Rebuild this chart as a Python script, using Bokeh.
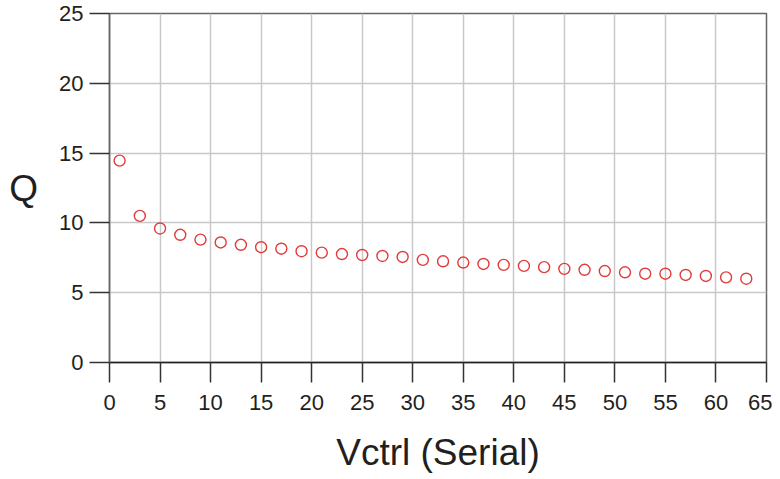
from bokeh.plotting import figure
from bokeh.embed import file_html
from bokeh.resources import INLINE
from bokeh.models import FixedTicker, Range1d

vctrl = [1, 3, 5, 7, 9, 11, 13, 15, 17, 19, 21, 23, 25, 27, 29, 31,
         33, 35, 37, 39, 41, 43, 45, 47, 49, 51, 53, 55, 57, 59, 61, 63]
q_vals = [14.46, 10.5, 9.6, 9.15, 8.8, 8.6, 8.43, 8.26, 8.15, 7.97, 7.87, 7.77, 7.7, 7.63, 7.56, 7.35,
          7.25, 7.16, 7.06, 6.99, 6.92, 6.83, 6.71, 6.64, 6.55, 6.46, 6.36, 6.36, 6.27, 6.2, 6.1, 6.0]
x_ticks = [0, 5, 10, 15, 20, 25, 30, 35, 40, 45, 50, 55, 60, 65]
y_ticks = [0, 5, 10, 15, 20, 25]

FONT = "Liberation Sans"

p = figure(width=772, height=477, output_backend="svg", toolbar_location=None,
           x_range=Range1d(0, 65), y_range=Range1d(0, 25),
           min_border_left=109, min_border_right=6, min_border_top=13, min_border_bottom=115)

p.scatter(vctrl, q_vals, marker="circle", size=11, fill_color=None,
          line_color="#e23b3b", line_width=1.4)

p.xaxis.ticker = FixedTicker(ticks=x_ticks)
p.yaxis.ticker = FixedTicker(ticks=y_ticks)

for ax in (p.xaxis, p.yaxis):
    ax.major_tick_out = 20
    ax.major_tick_in = 0
    ax.minor_tick_out = 0
    ax.minor_tick_in = 0
    ax.major_label_text_font = FONT
    ax.major_label_text_font_size = "22px"
    ax.major_label_text_color = "#231f20"
    ax.axis_label_text_font = FONT
    ax.axis_label_text_font_size = "37px"
    ax.axis_label_text_font_style = "normal"
    ax.axis_label_text_color = "#231f20"
    ax.major_tick_line_color = "#333333"
    ax.major_tick_line_width = 1.5

p.xaxis.axis_label = "Vctrl (Serial)"
p.yaxis.axis_label = "Q"
p.yaxis.axis_label_orientation = "horizontal"
p.xaxis.major_label_standoff = 12
p.yaxis.major_label_standoff = 6
p.xaxis.axis_label_standoff = 19
p.yaxis.axis_label_standoff = 18

p.xaxis.axis_line_color = "#222222"
p.xaxis.axis_line_width = 1.5
p.yaxis.axis_line_color = "#666666"
p.yaxis.axis_line_width = 1.5

p.xgrid.grid_line_color = "#c8c8c8"
p.ygrid.grid_line_color = "#c8c8c8"
p.xgrid.grid_line_width = 1.5
p.ygrid.grid_line_width = 1.5

p.outline_line_color = "#666666"
p.outline_line_width = 1.5
p.background_fill_color = "white"
p.border_fill_color = "white"

open("out.html", "w").write(file_html(p, INLINE))
